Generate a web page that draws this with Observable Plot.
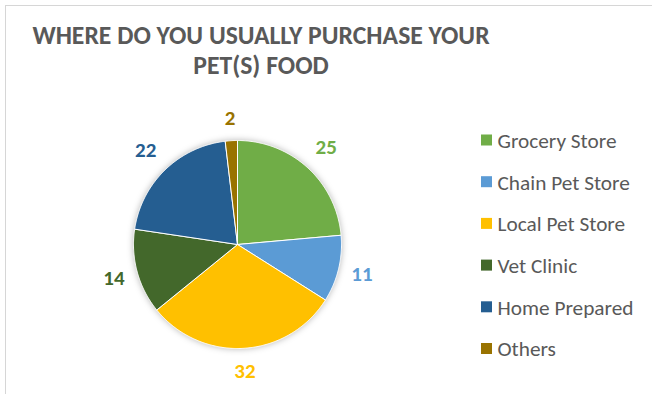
<!DOCTYPE html>
<html>
<head>
<meta charset="utf-8">
<script src="https://cdn.jsdelivr.net/npm/d3@7"></script>
<script src="https://cdn.jsdelivr.net/npm/@observablehq/plot@0.6"></script>
<style>
  html, body { margin: 0; padding: 0; background: #fff; }
  #wrap { position: relative; width: 652px; height: 394px; overflow: hidden; }
  #frame { position: absolute; left: 5px; top: 5px; width: 700px; height: 450px;
           border-left: 1.5px solid #d6d6d6; border-top: 1.5px solid #d6d6d6; }
  #title { position: absolute; left: 0; width: 522px; top: 21px; text-align: center;
           font-family: Carlito, Calibri, "Liberation Sans", sans-serif; font-weight: bold;
           font-size: 25.7px; line-height: 30px; color: #595959; }
  #chart { position: absolute; left: 0; top: 0; }
</style>
</head>
<body>
<div id="wrap">
  <div id="frame"></div>
  <div id="chart"></div>
  <div id="title">WHERE DO YOU USUALLY PURCHASE YOUR<br>PET(S) FOOD</div>
</div>
<script>
// ---- data ----
const categories = ["Grocery Store", "Chain Pet Store", "Local Pet Store", "Vet Clinic", "Home Prepared", "Others"];
const values = [25, 11, 32, 14, 22, 2];
const colors = ["#70AD47", "#5B9BD5", "#FFC000", "#43682B", "#255E91", "#997300"];

// ---- layout ----
const W = 652, H = 394;
const cx = 237, cy = 244, R = 104;
const labelSize = 21, legendSize = 21.3;
const legendX = 481, legendY0 = 140, legendStep = 41.7, swatch = 11;

const pie = d3.pie().sort(null).value(d => d.value)(
  categories.map((c, i) => ({category: c, value: values[i]}))
);

// polygon points per slice (angle 0 = 12 o'clock, clockwise)
const slicePts = [];
for (const a of pie) {
  const cat = a.data.category;
  slicePts.push({category: cat, x: cx, y: cy});
  const n = Math.max(2, Math.ceil((a.endAngle - a.startAngle) / (Math.PI / 360)));
  for (let k = 0; k <= n; k++) {
    const t = a.startAngle + (a.endAngle - a.startAngle) * k / n;
    slicePts.push({category: cat, x: cx + R * Math.sin(t), y: cy - R * Math.cos(t)});
  }
  slicePts.push({category: cat, x: cx, y: cy});
}

// outside-end labels
const labels = pie.map(a => {
  const t = (a.startAngle + a.endAngle) / 2;
  const s = String(a.data.value);
  const hw = s.length * 0.507 * labelSize / 2 + 3;
  const hh = 0.61 * labelSize;
  const d = Math.min(hw / Math.max(1e-6, Math.abs(Math.sin(t))), hh / Math.max(1e-6, Math.abs(Math.cos(t))));
  const r = R + 10 + d;
  return {category: a.data.category, text: s, x: cx + r * Math.sin(t), y: cy - r * Math.cos(t)};
});

const legend = categories.map((c, i) => ({category: c, y: legendY0 + i * legendStep}));

const color = {domain: categories, range: colors};

const chart = Plot.plot({
  width: W, height: H,
  margin: 0,
  x: {domain: [0, W], range: [0, W], axis: null},
  y: {domain: [0, H], range: [0, H], axis: null},
  color,
  style: {background: "transparent", fontFamily: "Carlito, Calibri, sans-serif", overflow: "visible"},
  marks: [
    Plot.line(slicePts, {x: "x", y: "y", z: "category", fill: "category", stroke: "white", strokeWidth: 1, curve: "linear"}),
    Plot.text(labels, {x: "x", y: "y", text: "text", fill: "category", fontSize: labelSize, fontWeight: "bold", textAnchor: "middle"}),
    Plot.rect(legend, {x1: legendX, x2: legendX + swatch, y1: d => d.y - swatch / 2, y2: d => d.y + swatch / 2, fill: "category"}),
    Plot.text(legend, {x: legendX + swatch + 5, y: d => d.y + 0.5, text: "category", fill: "#595959", fontSize: legendSize, textAnchor: "start"})
  ]
});
document.getElementById("chart").appendChild(chart);
d3.select(chart).select("g[aria-label='line']").style("filter", "drop-shadow(0px 0px 3px rgba(0,0,0,0.28))");
</script>
</body>
</html>
